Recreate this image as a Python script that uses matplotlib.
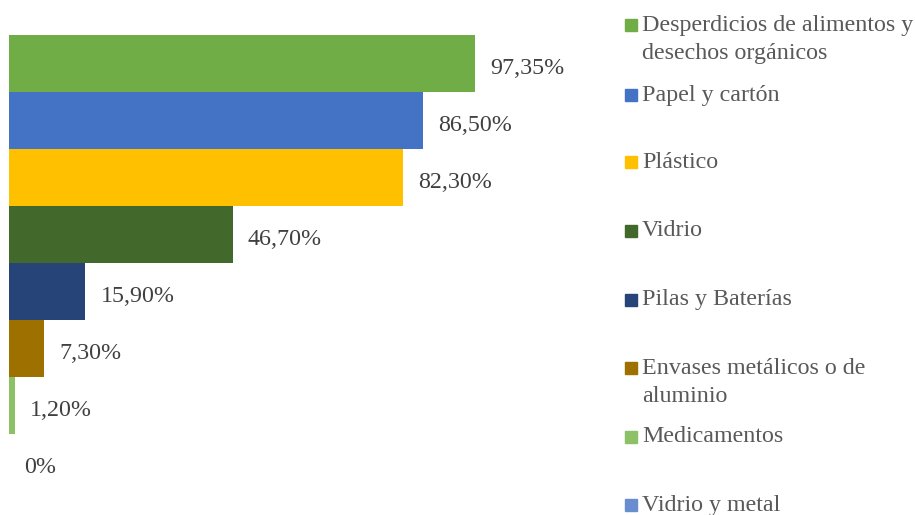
import matplotlib
matplotlib.use("Agg")
from matplotlib import pyplot as plt
from matplotlib.patches import Rectangle

categories = [
    "Desperdicios de alimentos y\ndesechos orgánicos",
    "Papel y cartón",
    "Plástico",
    "Vidrio",
    "Pilas y Baterías",
    "Envases metálicos o de\naluminio",
    "Medicamentos",
    "Vidrio y metal",
]
values = [97.35, 86.50, 82.30, 46.70, 15.90, 7.30, 1.20, 0.0]
value_labels = ["97,35%", "86,50%", "82,30%", "46,70%", "15,90%", "7,30%", "1,20%", "0%"]
colors = ["#70AD47", "#4472C4", "#FFC000", "#43682B",
          "#264478", "#9E7000", "#8CC168", "#698ED0"]

# vertical position (pixels from top) of the first line of each legend entry
legend_rows = [25, 95, 162, 231, 300, 368, 437, 505]
line_step = 28

W, H = 915, 515
plt.rcParams["font.family"] = ["Liberation Serif", "DejaVu Serif"]
fs = 17.3

fig = plt.figure(figsize=(W / 100, H / 100), dpi=100)
ax = fig.add_axes([9 / W, (H - 491) / H, 479 / W, 456 / H])

pos = list(range(len(values)))
ax.barh(pos, values, height=1.0, color=colors)
ax.set_xlim(0, 100)
ax.set_ylim(len(values) - 0.5, -0.5)
ax.axis("off")

for p, v, lab in zip(pos, values, value_labels):
    ax.annotate(lab, (v, p), xytext=(11, -3.5), textcoords="offset points",
                va="center", ha="left", fontsize=fs, color="#404040")

# legend drawn by hand so entries keep their uneven spacing
for name, col, y in zip(categories, colors, legend_rows):
    fig.patches.append(Rectangle((625 / W, (H - y - 6) / H), 12 / W, 12 / H,
                                 transform=fig.transFigure, color=col))
    for i, line in enumerate(name.split("\n")):
        fig.text(642 / W, (H - y - i * line_step) / H, line, fontsize=fs,
                 color="#595959", va="center", ha="left")

fig.savefig("out.png", dpi=100)
